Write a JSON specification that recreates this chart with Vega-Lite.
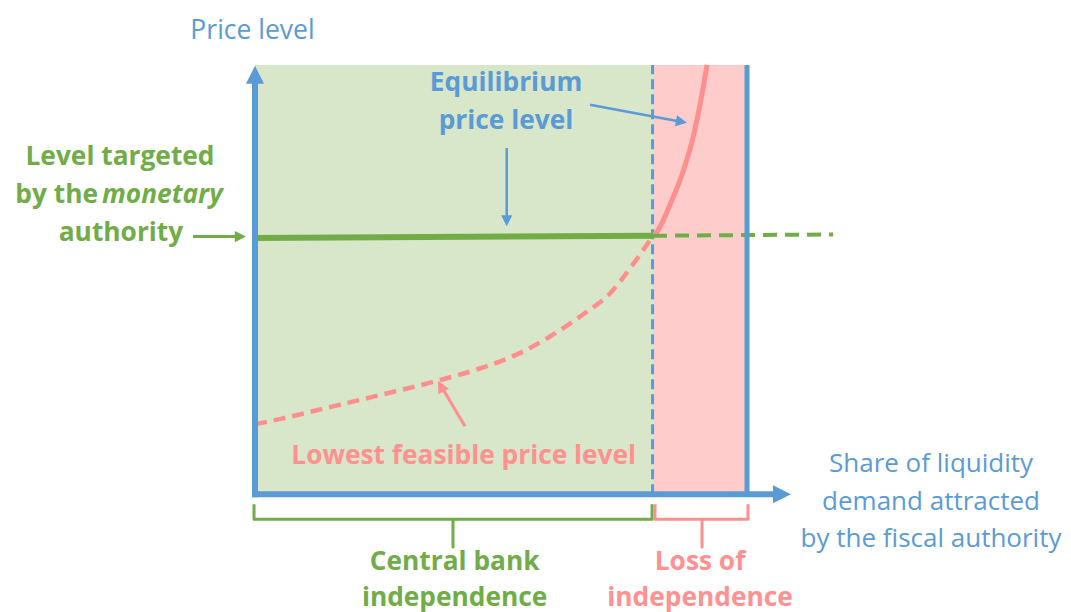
{
  "$schema": "https://vega.github.io/schema/vega-lite/v6.json",
  "width": 1071,
  "height": 612,
  "autosize": {"type": "fit", "contains": "padding"},
  "padding": 0,
  "background": "white",
  "config": {"view": {"stroke": null}},
  "datasets": {
    "regions": [
      {"zone": "independence", "x": 0, "x2": 0.809, "y": 0, "y2": 10},
      {"zone": "loss", "x": 0.809, "x2": 1.0, "y": 0, "y2": 10}
    ],
    "curve": [
      {"part": "low", "x": 0, "y": 1.628},
      {"part": "low", "x": 0.0569, "y": 1.767},
      {"part": "low", "x": 0.1585, "y": 2.047},
      {"part": "low", "x": 0.2602, "y": 2.326},
      {"part": "low", "x": 0.3699, "y": 2.64},
      {"part": "low", "x": 0.4634, "y": 2.953},
      {"part": "low", "x": 0.5325, "y": 3.256},
      {"part": "low", "x": 0.5996, "y": 3.674},
      {"part": "low", "x": 0.6667, "y": 4.186},
      {"part": "low", "x": 0.6951, "y": 4.419},
      {"part": "low", "x": 0.7175, "y": 4.628},
      {"part": "low", "x": 0.7419, "y": 4.953},
      {"part": "low", "x": 0.7825, "y": 5.581},
      {"part": "low", "x": 0.8089, "y": 6.02},
      {"part": "eq", "x": 0.8089, "y": 6.02},
      {"part": "eq", "x": 0.8171, "y": 6.116},
      {"part": "eq", "x": 0.8435, "y": 6.744},
      {"part": "eq", "x": 0.8699, "y": 7.512},
      {"part": "eq", "x": 0.8902, "y": 8.302},
      {"part": "eq", "x": 0.9045, "y": 9.07},
      {"part": "eq", "x": 0.9187, "y": 10.0}
    ],
    "segments": [
      {"kind": "threshold", "x": 0.808, "y": 0, "x2": 0.808, "y2": 10},
      {"kind": "target", "x": 0, "y": 5.97, "x2": 0.809, "y2": 6.02},
      {"kind": "targetExt", "x": 0.809, "y": 6.02, "x2": 1.175, "y2": 6.05},
      {"kind": "axis", "x": 0, "y": -0.07, "x2": 0, "y2": 9.6},
      {"kind": "axis", "x": -0.006, "y": 0, "x2": 1.06, "y2": 0},
      {"kind": "border", "x": 1.0, "y": 0, "x2": 1.0, "y2": 10},
      {"kind": "pointerBlue", "x": 0.5116, "y": 8.063, "x2": 0.5116, "y2": 6.38},
      {"kind": "pointerBlue", "x": 0.6809, "y": 9.07, "x2": 0.866, "y2": 8.677},
      {"kind": "pointerPink", "x": 0.4268, "y": 1.581, "x2": 0.3793, "y2": 2.5},
      {"kind": "pointerGreen", "x": -0.126, "y": 6.0, "x2": -0.0305, "y2": 6.0}
    ],
    "heads": [
      {"head": "yAxis", "x": 0, "y": 9.98},
      {"head": "xAxis", "x": 1.0894, "y": 0},
      {"head": "eqDown", "x": 0.5116, "y": 6.24},
      {"head": "eqSlant", "x": 0.878, "y": 8.651},
      {"head": "lowest", "x": 0.372, "y": 2.64},
      {"head": "target", "x": -0.0183, "y": 6.0}
    ],
    "braces": [
      {"brace": "central", "step": 1, "x": -0.002, "y": -0.2326},
      {"brace": "central", "step": 2, "x": -0.002, "y": -0.5814},
      {"brace": "central", "step": 3, "x": 0.4024, "y": -0.5814},
      {"brace": "central", "step": 4, "x": 0.4024, "y": -1.2326},
      {"brace": "central", "step": 5, "x": 0.4024, "y": -0.5814},
      {"brace": "central", "step": 6, "x": 0.807, "y": -0.5814},
      {"brace": "central", "step": 7, "x": 0.807, "y": -0.2326},
      {"brace": "loss", "step": 1, "x": 0.813, "y": -0.2326},
      {"brace": "loss", "step": 2, "x": 0.813, "y": -0.5814},
      {"brace": "loss", "step": 3, "x": 0.9085, "y": -0.5814},
      {"brace": "loss", "step": 4, "x": 0.9085, "y": -1.2326},
      {"brace": "loss", "step": 5, "x": 0.9085, "y": -0.5814},
      {"brace": "loss", "step": 6, "x": 1.002, "y": -0.5814},
      {"brace": "loss", "step": 7, "x": 1.002, "y": -0.2326}
    ],
    "labels": [
      {"style": "axisTitle", "text": "Price level", "x": -0.0051, "y": 10.6},
      {"style": "axisLabel", "text": "Share of liquidity", "x": 1.374, "y": 0.5116},
      {"style": "axisLabel", "text": "demand attracted", "x": 1.374, "y": -0.3605},
      {"style": "axisLabel", "text": "by the fiscal authority", "x": 1.374, "y": -1.2326},
      {"style": "green", "text": "Level targeted", "x": -0.2744, "y": 7.674},
      {"style": "greenRight", "text": "by the", "x": -0.3191, "y": 6.791},
      {"style": "greenItalic", "text": "monetary", "x": -0.311, "y": 6.791},
      {"style": "green", "text": "authority", "x": -0.2724, "y": 5.907},
      {"style": "green", "text": "Central bank", "x": 0.4057, "y": -1.76},
      {"style": "green", "text": "independence", "x": 0.4057, "y": -2.616},
      {"style": "blue", "text": "Equilibrium", "x": 0.5102, "y": 9.402},
      {"style": "blue", "text": "price level", "x": 0.5102, "y": 8.505},
      {"style": "pink", "text": "Lowest feasible price level", "x": 0.4242, "y": 0.698},
      {"style": "pink", "text": "Loss of", "x": 0.9045, "y": -1.76},
      {"style": "pink", "text": "independence", "x": 0.9045, "y": -2.616}
    ]
  },
  "encoding": {
    "x": {"field": "x", "type": "quantitative", "scale": {"domain": [-0.5183, 1.6585], "nice": false, "zero": false}, "axis": null},
    "y": {"field": "y", "type": "quantitative", "scale": {"domain": [-2.7209, 11.5116], "nice": false, "zero": false}, "axis": null}
  },
  "layer": [
    {
      "data": {"name": "regions"},
      "mark": {"type": "rect", "opacity": 1},
      "encoding": {
        "x2": {"field": "x2"},
        "y2": {"field": "y2"},
        "color": {"field": "zone", "type": "nominal", "scale": {"domain": ["independence", "loss"], "range": ["#D8E6CA", "#FFCCCC"]}, "legend": null}
      }
    },
    {
      "data": {"name": "segments"},
      "transform": [{"filter": "datum.kind == 'threshold'"}],
      "mark": {"type": "rule", "color": "#5B9BD5", "strokeWidth": 3, "strokeDash": [10, 5]},
      "encoding": {"x2": {"field": "x2"}, "y2": {"field": "y2"}}
    },
    {
      "data": {"name": "curve"},
      "transform": [{"filter": "datum.part == 'low'"}],
      "mark": {"type": "line", "color": "#FF8F8F", "strokeWidth": 4.5, "strokeDash": [12, 7], "interpolate": "monotone"},
      "encoding": {}
    },
    {
      "data": {"name": "curve"},
      "transform": [{"filter": "datum.part == 'eq'"}],
      "mark": {"type": "line", "color": "#FF8F8F", "strokeWidth": 5, "interpolate": "monotone"},
      "encoding": {}
    },
    {
      "data": {"name": "segments"},
      "transform": [{"filter": "datum.kind == 'target'"}],
      "mark": {"type": "rule", "color": "#70AD47", "strokeWidth": 6},
      "encoding": {"x2": {"field": "x2"}, "y2": {"field": "y2"}}
    },
    {
      "data": {"name": "segments"},
      "transform": [{"filter": "datum.kind == 'targetExt'"}],
      "mark": {"type": "rule", "color": "#70AD47", "strokeWidth": 4, "strokeDash": [14, 8]},
      "encoding": {"x2": {"field": "x2"}, "y2": {"field": "y2"}}
    },
    {
      "data": {"name": "segments"},
      "transform": [{"filter": "datum.kind == 'axis'"}],
      "mark": {"type": "rule", "color": "#5B9BD5", "strokeWidth": 6},
      "encoding": {"x2": {"field": "x2"}, "y2": {"field": "y2"}}
    },
    {
      "data": {"name": "segments"},
      "transform": [{"filter": "datum.kind == 'border'"}],
      "mark": {"type": "rule", "color": "#5B9BD5", "strokeWidth": 5},
      "encoding": {"x2": {"field": "x2"}, "y2": {"field": "y2"}}
    },
    {
      "data": {"name": "segments"},
      "transform": [{"filter": "datum.kind == 'pointerBlue'"}],
      "mark": {"type": "rule", "color": "#5B9BD5", "strokeWidth": 2.5},
      "encoding": {"x2": {"field": "x2"}, "y2": {"field": "y2"}}
    },
    {
      "data": {"name": "segments"},
      "transform": [{"filter": "datum.kind == 'pointerPink'"}],
      "mark": {"type": "rule", "color": "#FF8F8F", "strokeWidth": 3},
      "encoding": {"x2": {"field": "x2"}, "y2": {"field": "y2"}}
    },
    {
      "data": {"name": "segments"},
      "transform": [{"filter": "datum.kind == 'pointerGreen'"}],
      "mark": {"type": "rule", "color": "#70AD47", "strokeWidth": 3},
      "encoding": {"x2": {"field": "x2"}, "y2": {"field": "y2"}}
    },
    {
      "data": {"name": "heads"},
      "transform": [{"filter": "datum.head == 'yAxis'"}],
      "mark": {"type": "point", "shape": "M0,0L-0.5,1L0.5,1Z", "filled": true, "opacity": 1, "color": "#5B9BD5", "size": 1296, "angle": 0, "strokeWidth": 0},
      "encoding": {}
    },
    {
      "data": {"name": "heads"},
      "transform": [{"filter": "datum.head == 'xAxis'"}],
      "mark": {"type": "point", "shape": "M0,0L-0.5,1L0.5,1Z", "filled": true, "opacity": 1, "color": "#5B9BD5", "size": 1296, "angle": 90, "strokeWidth": 0},
      "encoding": {}
    },
    {
      "data": {"name": "heads"},
      "transform": [{"filter": "datum.head == 'eqDown'"}],
      "mark": {"type": "point", "shape": "M0,0L-0.5,1L0.5,1Z", "filled": true, "opacity": 1, "color": "#5B9BD5", "size": 500, "angle": 180, "strokeWidth": 0},
      "encoding": {}
    },
    {
      "data": {"name": "heads"},
      "transform": [{"filter": "datum.head == 'eqSlant'"}],
      "mark": {"type": "point", "shape": "M0,0L-0.5,1L0.5,1Z", "filled": true, "opacity": 1, "color": "#5B9BD5", "size": 500, "angle": 100.5, "strokeWidth": 0},
      "encoding": {}
    },
    {
      "data": {"name": "heads"},
      "transform": [{"filter": "datum.head == 'lowest'"}],
      "mark": {"type": "point", "shape": "M0,0L-0.5,1L0.5,1Z", "filled": true, "opacity": 1, "color": "#FF8F8F", "size": 576, "angle": 332, "strokeWidth": 0},
      "encoding": {}
    },
    {
      "data": {"name": "heads"},
      "transform": [{"filter": "datum.head == 'target'"}],
      "mark": {"type": "point", "shape": "M0,0L-0.5,1L0.5,1Z", "filled": true, "opacity": 1, "color": "#70AD47", "size": 500, "angle": 90, "strokeWidth": 0},
      "encoding": {}
    },
    {
      "data": {"name": "braces"},
      "transform": [{"filter": "datum.brace == 'central'"}],
      "mark": {"type": "line", "color": "#70AD47", "strokeWidth": 3, "strokeJoin": "round"},
      "encoding": {"order": {"field": "step", "type": "quantitative"}}
    },
    {
      "data": {"name": "braces"},
      "transform": [{"filter": "datum.brace == 'loss'"}],
      "mark": {"type": "line", "color": "#FF8F8F", "strokeWidth": 3, "strokeJoin": "round"},
      "encoding": {"order": {"field": "step", "type": "quantitative"}}
    },
    {
      "data": {"name": "labels"},
      "transform": [{"filter": "datum.style == 'axisTitle'"}],
      "mark": {"type": "text", "font": "Open Sans", "fontSize": 26.5, "color": "#5B9BD5", "align": "center", "baseline": "alphabetic"},
      "encoding": {"text": {"field": "text"}}
    },
    {
      "data": {"name": "labels"},
      "transform": [{"filter": "datum.style == 'axisLabel'"}],
      "mark": {"type": "text", "font": "Open Sans", "fontSize": 26, "color": "#5B9BD5", "align": "center", "baseline": "alphabetic"},
      "encoding": {"text": {"field": "text"}}
    },
    {
      "data": {"name": "labels"},
      "transform": [{"filter": "datum.style == 'green'"}],
      "mark": {"type": "text", "font": "Open Sans", "fontSize": 26.3, "fontWeight": "bold", "color": "#70AD47", "align": "center", "baseline": "alphabetic"},
      "encoding": {"text": {"field": "text"}}
    },
    {
      "data": {"name": "labels"},
      "transform": [{"filter": "datum.style == 'greenRight'"}],
      "mark": {"type": "text", "font": "Open Sans", "fontSize": 26.3, "fontWeight": "bold", "color": "#70AD47", "align": "right", "baseline": "alphabetic"},
      "encoding": {"text": {"field": "text"}}
    },
    {
      "data": {"name": "labels"},
      "transform": [{"filter": "datum.style == 'greenItalic'"}],
      "mark": {"type": "text", "font": "Open Sans", "fontSize": 26.3, "fontWeight": "bold", "fontStyle": "italic", "color": "#70AD47", "align": "left", "baseline": "alphabetic"},
      "encoding": {"text": {"field": "text"}}
    },
    {
      "data": {"name": "labels"},
      "transform": [{"filter": "datum.style == 'blue'"}],
      "mark": {"type": "text", "font": "Open Sans", "fontSize": 26.3, "fontWeight": "bold", "color": "#5B9BD5", "align": "center", "baseline": "alphabetic"},
      "encoding": {"text": {"field": "text"}}
    },
    {
      "data": {"name": "labels"},
      "transform": [{"filter": "datum.style == 'pink'"}],
      "mark": {"type": "text", "font": "Open Sans", "fontSize": 26.3, "fontWeight": "bold", "color": "#FF9191", "align": "center", "baseline": "alphabetic"},
      "encoding": {"text": {"field": "text"}}
    }
  ]
}
